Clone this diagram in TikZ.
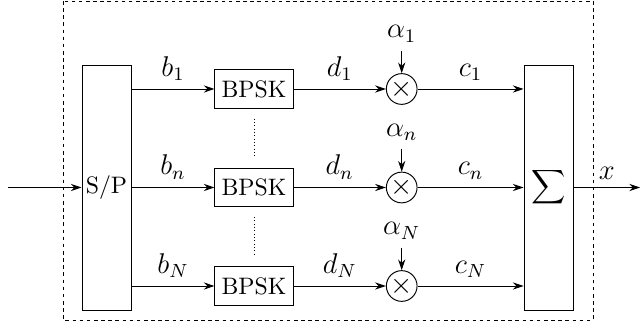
\documentclass[tikz,border=0pt]{standalone}
\usepackage{amsmath,amssymb}
\usetikzlibrary{calc,arrows.meta,positioning}
\begin{document}
\begin{tikzpicture}[x=0.42pt,y=-0.42pt,>={Stealth[length=4.5pt,width=3pt]},
  blk/.style={draw,minimum width=20.6pt,minimum height=102.9pt,inner sep=0pt},
  mod/.style={draw,minimum width=32.8pt,minimum height=16pt,inner sep=0pt},
  mult/.style={draw,circle,minimum size=12.9pt,inner sep=0pt,font=\large},
  lab/.style={font=\large}]
  \useasboundingbox (0,0) rectangle (641,329);
  \draw[dash pattern=on 1.5pt off 1.5pt] (63,1) rectangle (593,320);
  \node[blk] (sp) at (106.5,187.5) {S/P};
  \node[blk] (sum) at (548.5,187.5) {$\displaystyle\sum$};
  \coordinate (in) at (8,187.5);
  \coordinate (out) at (640,187.5);
  \draw[->] (in) -- (sp.west |- in);
  \draw[->] (sum.east |- out) -- node[lab,above] {$x$} (out);
  \foreach \i/\y in {1/89,n/187.5,N/286}{
     \node[mod] (m\i) at (254,\y) {BPSK};
     \node[mult] (x\i) at (401.7,\y) {$\times$};
     \node[lab,above=9.5pt of x\i] (a\i) {$\alpha_\i$};
     \draw[->] (a\i) -- (x\i);
     \draw[->] (sp.east |- m\i) -- node[lab,above] {$b_\i$} (m\i);
     \draw[->] (m\i) -- node[lab,above] {$d_\i$} (x\i);
     \draw[->] (x\i) -- node[lab,above] {$c_\i$} (sum.west |- x\i);
  }
  \draw[densely dotted] ($(m1.south)+(0,10)$) -- ($(mn.north)+(0,-10)$);
  \draw[densely dotted] ($(mn.south)+(0,10)$) -- ($(mN.north)+(0,-10)$);
\end{tikzpicture}
\end{document}
